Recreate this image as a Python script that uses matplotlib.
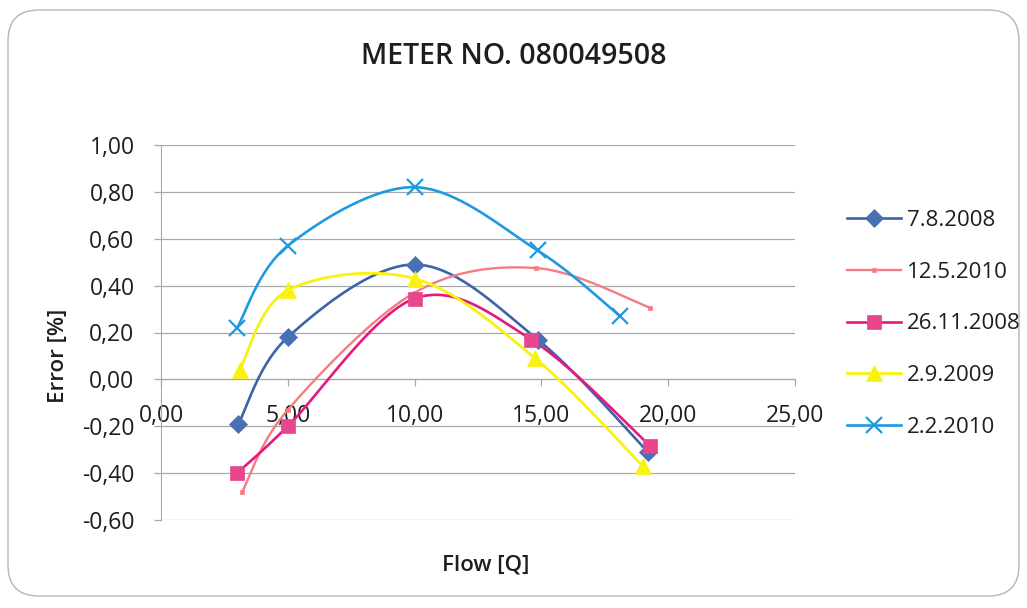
import numpy as np
import matplotlib
matplotlib.use("Agg")
import matplotlib.pyplot as plt
from matplotlib.patches import FancyBboxPatch
from matplotlib.lines import Line2D

plt.rcParams['font.family'] = ['Open Sans', 'DejaVu Sans']

title = "METER NO. 080049508"
x_label = "Flow [Q]"
y_label = "Error [%]"

labels = ["7.8.2008", "12.5.2010", "26.11.2008", "2.9.2009", "2.2.2010"]

flow_7_8_2008 = [3.05, 5.0, 10.0, 14.85, 19.2]
err_7_8_2008 = [-0.19, 0.18, 0.49, 0.17, -0.31]

flow_12_5_2010 = [3.2, 5.0, 10.0, 14.8, 19.3]
err_12_5_2010 = [-0.48, -0.13, 0.37, 0.475, 0.305]

flow_26_11_2008 = [3.0, 5.0, 10.0, 14.6, 19.3]
err_26_11_2008 = [-0.40, -0.20, 0.345, 0.17, -0.285]

flow_2_9_2009 = [3.1, 5.0, 10.0, 14.75, 19.0]
err_2_9_2009 = [0.04, 0.38, 0.43, 0.09, -0.37]

flow_2_2_2010 = [3.0, 5.0, 10.0, 14.85, 18.1]
err_2_2_2010 = [0.22, 0.57, 0.82, 0.55, 0.27]

x_ticks = [0, 5, 10, 15, 20, 25]
y_ticks = [-0.6, -0.4, -0.2, 0.0, 0.2, 0.4, 0.6, 0.8, 1.0]


def smooth(xs, ys, n=40):
    """Cubic Bezier smoothing through every point (Catmull-Rom style)."""
    p = np.column_stack([xs, ys]).astype(float)
    out = []
    for i in range(len(p) - 1):
        p0 = p[i - 1] if i > 0 else p[i]
        p1, p2 = p[i], p[i + 1]
        p3 = p[i + 2] if i + 2 < len(p) else p[i + 1]
        c1 = p1 + (p2 - p0) / 6.0
        c2 = p2 - (p3 - p1) / 6.0
        t = np.linspace(0, 1, n)[:, None]
        seg = ((1 - t) ** 3) * p1 + 3 * ((1 - t) ** 2) * t * c1 \
            + 3 * (1 - t) * t ** 2 * c2 + t ** 3 * p2
        out.append(seg if i == 0 else seg[1:])
    s = np.vstack(out)
    return s[:, 0], s[:, 1]


series = [
    dict(x=flow_7_8_2008, y=err_7_8_2008, line="#3D63A8", face="#4770B5",
         marker="D", ms=9, lw=1.9, mew=0.5),
    dict(x=flow_12_5_2010, y=err_12_5_2010, line="#F47C82", face="#F47C82",
         marker="s", ms=3.5, lw=1.7, mew=0.5),
    dict(x=flow_26_11_2008, y=err_26_11_2008, line="#E5197E", face="#E8468C",
         marker="s", ms=10, lw=1.9, mew=0.5),
    dict(x=flow_2_9_2009, y=err_2_9_2009, line="#F7F20E", face="#F7F20E",
         marker="^", ms=11, lw=2.0, mew=0.5),
    dict(x=flow_2_2_2010, y=err_2_2_2010, line="#1E9BE0", face="#1E9BE0",
         marker="x", ms=11, lw=1.9, mew=1.6),
]

W, H = 1027, 608
fig = plt.figure(figsize=(W / 100, H / 100), dpi=100)

# rounded chart border
fig.patches.append(FancyBboxPatch((8 / W, 12 / H), 1011 / W, 586 / H,
                                  boxstyle="round,pad=0,rounding_size=0.03",
                                  transform=fig.transFigure, fill=False,
                                  ec="#B5B5B5", lw=1.0, mutation_aspect=W / H))

ax = fig.add_axes([161 / W, 1 - 520 / H, 634 / W, 375 / H])
ax.set_xlim(0, 25)
ax.set_ylim(-0.6, 1.0)

grid_col = "#A8A8A8"
for yv in y_ticks:
    ax.axhline(yv, color=grid_col, lw=0.9, zorder=1)

for side in ("top", "right"):
    ax.spines[side].set_visible(False)
ax.spines["bottom"].set_position(("data", 0))
ax.spines["bottom"].set_color(grid_col)
ax.spines["left"].set_color(grid_col)
ax.spines["bottom"].set_zorder(1)

tick_size = 16.5
ax.set_xticks(x_ticks)
ax.set_xticklabels([f"{v:.2f}".replace(".", ",") for v in x_ticks])
ax.set_yticks(y_ticks)
ax.set_yticklabels([f"{v:.2f}".replace(".", ",") for v in y_ticks])
ax.tick_params(axis="x", direction="out", length=5, width=0.9, color=grid_col,
               pad=13, labelsize=tick_size, labelcolor="#1E1E1E")
ax.tick_params(axis="y", direction="out", length=5, width=0.9, color=grid_col,
               pad=14, labelsize=tick_size, labelcolor="#1E1E1E")

handles = []
for s, lab in zip(series, labels):
    sx, sy = smooth(s["x"], s["y"])
    ax.plot(sx, sy, color=s["line"], lw=s["lw"], zorder=3, solid_capstyle="round")
    ax.plot(s["x"], s["y"], ls="none", marker=s["marker"], ms=s["ms"],
            mfc=s["face"], mec=s["line"] if s["marker"] == "x" else s["face"],
            mew=s["mew"], zorder=4)
    handles.append(Line2D([], [], color=s["line"], lw=s["lw"], marker=s["marker"],
                          ms=s["ms"], mfc=s["face"],
                          mec=s["line"] if s["marker"] == "x" else s["face"],
                          mew=s["mew"]))

fig.legend(handles, labels, loc="upper left",
           bbox_to_anchor=(847 / W, 1 - 210 / H), frameon=False,
           fontsize=16, labelspacing=1.38, handlelength=2.45,
           handletextpad=0.25, borderaxespad=0, borderpad=0,
           labelcolor="#1E1E1E")

fig.text(514 / W, 1 - 57 / H, title, ha="center", va="center",
         fontsize=20.5, fontweight="semibold", color="#1E1E1E")
fig.text(486 / W, 1 - 565 / H, x_label, ha="center", va="center",
         fontsize=16, fontweight="semibold", color="#1E1E1E")
fig.text(58 / W, 1 - 356 / H, y_label, ha="center", va="center", rotation=90,
         fontsize=16, fontweight="semibold", color="#1E1E1E")

fig.savefig("out.png", dpi=100, facecolor="white")
